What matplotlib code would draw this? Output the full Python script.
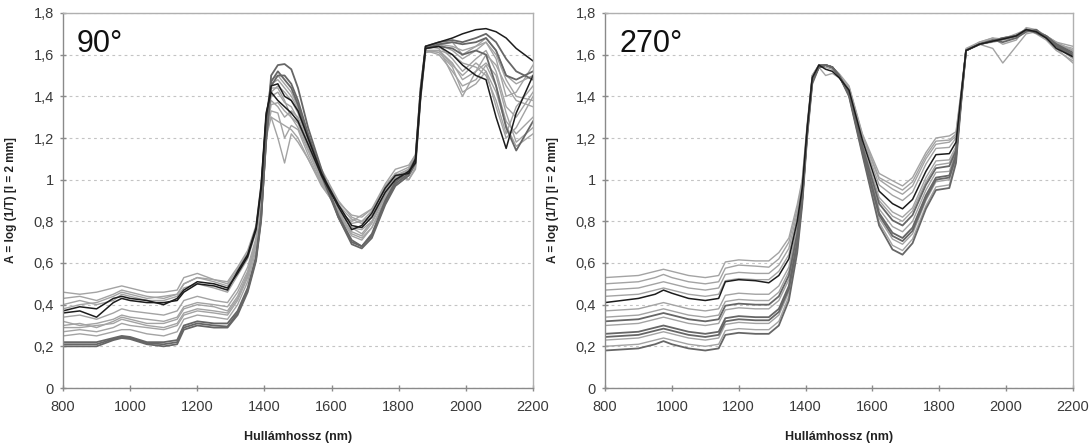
import matplotlib
matplotlib.use('Agg')
import matplotlib.pyplot as plt
from matplotlib.ticker import FuncFormatter

plt.rcParams['font.family'] = ['Liberation Sans', 'DejaVu Sans']

# ---------------- data ----------------
wavelength = [800, 850, 900, 950, 975, 1000, 1050, 1100,
              1140, 1160, 1200, 1250, 1290,
              1320, 1350, 1375, 1390, 1405, 1420,
              1440, 1460, 1480, 1500, 1530, 1570,
              1620, 1660, 1690, 1720, 1760, 1790,
              1830, 1850, 1865, 1880, 1920,
              1960, 1990, 2030, 2060, 2090, 2120, 2150, 2200]

panel_titles = ['90°', '270°']
x_ticks = [800, 1000, 1200, 1400, 1600, 1800, 2000, 2200]
y_ticks = [0, 0.2, 0.4, 0.6, 0.8, 1.0, 1.2, 1.4, 1.6, 1.8]
x_label = 'Hullámhossz (nm)'
y_label = 'A = log (1/T) [l = 2 mm]'

# ----- 90° panel spectra -----
s90_a = [0.37, 0.39, 0.38, 0.43, 0.44, 0.43, 0.42, 0.40,
         0.43, 0.47, 0.51, 0.50, 0.48,
         0.55, 0.63, 0.76, 0.95, 1.30, 1.45,
         1.46, 1.40, 1.38, 1.33, 1.20, 1.03,
         0.88, 0.78, 0.77, 0.82, 0.94, 1.00,
         1.04, 1.08, 1.40, 1.64, 1.66,
         1.68, 1.70, 1.72, 1.725, 1.71, 1.68, 1.63, 1.57]
s90_b = [0.36, 0.37, 0.34, 0.41, 0.43, 0.42, 0.41, 0.41,
         0.42, 0.46, 0.50, 0.49, 0.47,
         0.56, 0.64, 0.77, 0.97, 1.32, 1.42,
         1.38, 1.35, 1.32, 1.28, 1.17, 1.02,
         0.87, 0.76, 0.78, 0.84, 0.96, 1.02,
         1.03, 1.10, 1.42, 1.63, 1.64,
         1.60, 1.55, 1.50, 1.48, 1.30, 1.15, 1.32, 1.50]
s90_c = [0.46, 0.45, 0.46, 0.48, 0.49, 0.48, 0.46, 0.46,
         0.47, 0.53, 0.55, 0.52, 0.51,
         0.58, 0.66, 0.78, 0.98, 1.30, 1.48,
         1.50, 1.46, 1.42, 1.35, 1.22, 1.05,
         0.90, 0.82, 0.80, 0.85, 0.97, 1.03,
         1.06, 1.12, 1.45, 1.64, 1.63,
         1.50, 1.40, 1.52, 1.60, 1.55, 1.45, 1.38, 1.35]
s90_d = [0.43, 0.44, 0.42, 0.45, 0.47, 0.46, 0.44, 0.43,
         0.45, 0.50, 0.53, 0.51, 0.49,
         0.56, 0.64, 0.77, 0.96, 1.28, 1.30,
         1.20, 1.08, 1.22, 1.18, 1.10, 0.98,
         0.85, 0.80, 0.83, 0.86, 0.95, 1.02,
         1.00, 1.05, 1.38, 1.62, 1.62,
         1.55, 1.50, 1.56, 1.52, 1.35, 1.20, 1.25, 1.40]
s90_e = [0.40, 0.42, 0.40, 0.42, 0.45, 0.44, 0.42, 0.42,
         0.44, 0.48, 0.50, 0.48, 0.46,
         0.54, 0.62, 0.75, 0.94, 1.27, 1.44,
         1.44, 1.38, 1.30, 1.25, 1.14, 0.99,
         0.86, 0.77, 0.74, 0.80, 0.93, 1.01,
         1.05, 1.10, 1.42, 1.63, 1.65,
         1.62, 1.58, 1.62, 1.66, 1.58, 1.40, 1.42, 1.55]
s90_f = [0.34, 0.35, 0.33, 0.36, 0.38, 0.37, 0.36, 0.35,
         0.37, 0.42, 0.44, 0.42, 0.41,
         0.48, 0.58, 0.72, 0.92, 1.25, 1.40,
         1.42, 1.37, 1.35, 1.29, 1.16, 1.00,
         0.85, 0.74, 0.72, 0.77, 0.90, 0.97,
         1.02, 1.07, 1.40, 1.62, 1.60,
         1.52, 1.45, 1.48, 1.55, 1.45, 1.28, 1.22, 1.30]
s90_g = [0.30, 0.31, 0.29, 0.32, 0.34, 0.33, 0.31, 0.31,
         0.33, 0.38, 0.40, 0.39, 0.37,
         0.44, 0.55, 0.70, 0.90, 1.22, 1.36,
         1.37, 1.33, 1.30, 1.27, 1.15, 1.00,
         0.84, 0.75, 0.73, 0.79, 0.92, 1.00,
         1.04, 1.09, 1.41, 1.63, 1.64,
         1.58, 1.52, 1.58, 1.62, 1.52, 1.35, 1.30, 1.42]
s90_h = [0.27, 0.28, 0.27, 0.29, 0.31, 0.30, 0.29, 0.28,
         0.30, 0.35, 0.37, 0.36, 0.35,
         0.42, 0.53, 0.68, 0.88, 1.20, 1.30,
         1.28, 1.26, 1.24, 1.20, 1.10, 0.97,
         0.86, 0.79, 0.80, 0.83, 0.94, 1.01,
         1.04, 1.08, 1.39, 1.62, 1.62,
         1.56, 1.48, 1.52, 1.56, 1.50, 1.32, 1.18, 1.25]
s90_i = [0.22, 0.22, 0.22, 0.24, 0.25, 0.245, 0.22, 0.22,
         0.23, 0.30, 0.32, 0.31, 0.31,
         0.37, 0.48, 0.63, 0.82, 1.18, 1.45,
         1.50, 1.50, 1.46, 1.38, 1.22, 1.03,
         0.83, 0.71, 0.68, 0.74, 0.90, 0.99,
         1.04, 1.10, 1.43, 1.64, 1.66,
         1.67, 1.66, 1.68, 1.70, 1.66, 1.58, 1.52, 1.48]
s90_j = [0.20, 0.20, 0.20, 0.23, 0.24, 0.235, 0.21, 0.20,
         0.21, 0.28, 0.30, 0.29, 0.29,
         0.35, 0.46, 0.61, 0.80, 1.20, 1.50,
         1.55, 1.555, 1.53, 1.44, 1.25, 1.05,
         0.82, 0.69, 0.67, 0.72, 0.88, 0.97,
         1.02, 1.08, 1.40, 1.63, 1.65,
         1.66, 1.65, 1.66, 1.68, 1.62, 1.50, 1.48, 1.52]
s90_k = [0.21, 0.21, 0.21, 0.235, 0.245, 0.24, 0.215, 0.21,
         0.22, 0.29, 0.31, 0.30, 0.295,
         0.36, 0.47, 0.62, 0.81, 1.19, 1.47,
         1.52, 1.48, 1.44, 1.36, 1.20, 1.02,
         0.82, 0.70, 0.68, 0.73, 0.89, 0.98,
         1.03, 1.09, 1.41, 1.63, 1.64,
         1.63, 1.60, 1.62, 1.60, 1.45, 1.25, 1.14, 1.28]
s90_l = [0.32, 0.30, 0.31, 0.33, 0.35, 0.34, 0.33, 0.32,
         0.34, 0.39, 0.41, 0.40, 0.39,
         0.46, 0.56, 0.71, 0.91, 1.24, 1.38,
         1.35, 1.30, 1.33, 1.30, 1.18, 1.01,
         0.88, 0.81, 0.79, 0.82, 0.92, 1.03,
         1.00, 1.06, 1.38, 1.61, 1.62,
         1.60, 1.56, 1.54, 1.50, 1.38, 1.22, 1.35, 1.45]
s90_m = [0.25, 0.26, 0.25, 0.27, 0.28, 0.28, 0.26, 0.25,
         0.27, 0.33, 0.35, 0.34, 0.33,
         0.40, 0.51, 0.66, 0.86, 1.22, 1.42,
         1.45, 1.42, 1.38, 1.32, 1.19, 1.02,
         0.84, 0.73, 0.71, 0.77, 0.91, 0.99,
         1.05, 1.11, 1.44, 1.64, 1.65,
         1.64, 1.62, 1.64, 1.66, 1.60, 1.48, 1.40, 1.38]
s90_n = [0.38, 0.40, 0.41, 0.44, 0.46, 0.45, 0.43, 0.44,
         0.45, 0.50, 0.53, 0.52, 0.50,
         0.57, 0.65, 0.77, 0.96, 1.29, 1.46,
         1.48, 1.44, 1.40, 1.34, 1.21, 1.04,
         0.89, 0.83, 0.82, 0.86, 0.98, 1.05,
         1.07, 1.12, 1.44, 1.64, 1.65,
         1.66, 1.60, 1.64, 1.68, 1.62, 1.50, 1.46, 1.50]
s90_o = [0.29, 0.29, 0.30, 0.31, 0.33, 0.32, 0.30, 0.29,
         0.31, 0.36, 0.38, 0.37, 0.36,
         0.43, 0.54, 0.69, 0.89, 1.21, 1.33,
         1.32, 1.20, 1.26, 1.24, 1.12, 0.98,
         0.85, 0.77, 0.76, 0.80, 0.93, 1.02,
         1.05, 1.09, 1.40, 1.62, 1.61,
         1.54, 1.42, 1.46, 1.52, 1.42, 1.26, 1.16, 1.22]

# ----- 270° panel spectra -----
s270_01 = [0.53, 0.535, 0.54, 0.56, 0.57, 0.56, 0.54, 0.53,
           0.54, 0.605, 0.615, 0.61, 0.61,
           0.65, 0.72, 0.88, 1.00, 1.27, 1.50,
           1.55, 1.55, 1.54, 1.51, 1.45, 1.22,
           1.03, 0.995, 0.97, 1.01, 1.13, 1.20,
           1.21, 1.23, 1.42, 1.63, 1.66,
           1.67, 1.675, 1.69, 1.72, 1.71, 1.69, 1.65, 1.63]
s270_12 = [0.50, 0.505, 0.51, 0.53, 0.545, 0.53, 0.51, 0.50,
           0.51, 0.575, 0.59, 0.585, 0.58,
           0.62, 0.70, 0.86, 0.99, 1.26, 1.50,
           1.55, 1.55, 1.54, 1.50, 1.445, 1.215,
           1.01, 0.975, 0.95, 0.99, 1.115, 1.185,
           1.19, 1.22, 1.41, 1.62, 1.655,
           1.665, 1.68, 1.69, 1.715, 1.72, 1.69, 1.655, 1.62]
s270_02 = [0.47, 0.475, 0.48, 0.50, 0.51, 0.50, 0.48, 0.47,
           0.48, 0.545, 0.555, 0.55, 0.55,
           0.59, 0.67, 0.84, 0.98, 1.26, 1.50,
           1.55, 1.55, 1.53, 1.50, 1.44, 1.21,
           1.00, 0.955, 0.93, 0.97, 1.10, 1.17,
           1.18, 1.21, 1.41, 1.62, 1.66,
           1.68, 1.65, 1.67, 1.73, 1.72, 1.68, 1.64, 1.60]
s270_03 = [0.44, 0.445, 0.45, 0.47, 0.48, 0.47, 0.45, 0.44,
           0.45, 0.515, 0.525, 0.52, 0.52,
           0.56, 0.64, 0.82, 0.97, 1.25, 1.49,
           1.54, 1.50, 1.51, 1.49, 1.44, 1.20,
           0.975, 0.925, 0.90, 0.94, 1.075, 1.15,
           1.155, 1.20, 1.40, 1.62, 1.65,
           1.63, 1.56, 1.64, 1.70, 1.71, 1.69, 1.66, 1.64]
s270_04 = [0.41, 0.42, 0.43, 0.45, 0.47, 0.455, 0.43, 0.42,
           0.43, 0.51, 0.52, 0.515, 0.505,
           0.54, 0.62, 0.80, 0.96, 1.25, 1.49,
           1.55, 1.53, 1.52, 1.49, 1.43, 1.19,
           0.945, 0.885, 0.86, 0.905, 1.04, 1.12,
           1.125, 1.18, 1.40, 1.62, 1.65,
           1.665, 1.675, 1.69, 1.72, 1.71, 1.68, 1.63, 1.59]
s270_05 = [0.37, 0.375, 0.38, 0.40, 0.41, 0.40, 0.38, 0.37,
           0.38, 0.445, 0.455, 0.45, 0.45,
           0.49, 0.58, 0.775, 0.945, 1.24, 1.49,
           1.55, 1.55, 1.54, 1.50, 1.43, 1.17,
           0.915, 0.845, 0.82, 0.865, 1.01, 1.09,
           1.095, 1.16, 1.39, 1.62, 1.655,
           1.67, 1.68, 1.69, 1.725, 1.715, 1.69, 1.66, 1.62]
s270_13 = [0.34, 0.345, 0.35, 0.37, 0.38, 0.37, 0.35, 0.34,
           0.35, 0.415, 0.425, 0.42, 0.42,
           0.46, 0.56, 0.76, 0.935, 1.24, 1.48,
           1.54, 1.55, 1.54, 1.50, 1.425, 1.165,
           0.90, 0.825, 0.80, 0.85, 0.99, 1.07,
           1.08, 1.15, 1.39, 1.62, 1.65,
           1.66, 1.67, 1.68, 1.71, 1.715, 1.69, 1.655, 1.62]
s270_06 = [0.32, 0.325, 0.33, 0.35, 0.36, 0.35, 0.33, 0.32,
           0.33, 0.395, 0.405, 0.40, 0.40,
           0.44, 0.54, 0.74, 0.93, 1.24, 1.48,
           1.54, 1.55, 1.54, 1.50, 1.42, 1.16,
           0.885, 0.805, 0.78, 0.83, 0.975, 1.055,
           1.065, 1.14, 1.39, 1.62, 1.65,
           1.67, 1.66, 1.68, 1.71, 1.72, 1.68, 1.65, 1.61]
s270_07 = [0.30, 0.305, 0.31, 0.33, 0.34, 0.33, 0.31, 0.30,
           0.31, 0.375, 0.385, 0.38, 0.38,
           0.42, 0.52, 0.73, 0.92, 1.23, 1.48,
           1.54, 1.54, 1.53, 1.50, 1.415, 1.15,
           0.86, 0.775, 0.75, 0.80, 0.95, 1.035,
           1.04, 1.13, 1.38, 1.62, 1.66,
           1.68, 1.675, 1.70, 1.72, 1.70, 1.67, 1.62, 1.57]
s270_08 = [0.26, 0.265, 0.27, 0.29, 0.30, 0.29, 0.27, 0.26,
           0.27, 0.335, 0.345, 0.34, 0.34,
           0.38, 0.49, 0.70, 0.91, 1.23, 1.48,
           1.55, 1.55, 1.54, 1.50, 1.41, 1.14,
           0.84, 0.745, 0.72, 0.77, 0.925, 1.01,
           1.02, 1.12, 1.38, 1.62, 1.65,
           1.665, 1.68, 1.69, 1.72, 1.71, 1.69, 1.65, 1.60]
s270_14 = [0.245, 0.25, 0.255, 0.275, 0.285, 0.275, 0.255, 0.245,
           0.255, 0.32, 0.33, 0.325, 0.325,
           0.365, 0.475, 0.69, 0.905, 1.22, 1.47,
           1.54, 1.55, 1.54, 1.50, 1.41, 1.14,
           0.83, 0.73, 0.705, 0.755, 0.91, 1.00,
           1.01, 1.11, 1.37, 1.62, 1.65,
           1.665, 1.675, 1.69, 1.72, 1.705, 1.68, 1.64, 1.59]
s270_09 = [0.23, 0.235, 0.24, 0.26, 0.27, 0.26, 0.24, 0.23,
           0.24, 0.305, 0.315, 0.31, 0.31,
           0.35, 0.46, 0.68, 0.90, 1.22, 1.47,
           1.54, 1.55, 1.54, 1.50, 1.41, 1.135,
           0.815, 0.715, 0.69, 0.74, 0.90, 0.99,
           1.00, 1.10, 1.37, 1.62, 1.655,
           1.67, 1.68, 1.695, 1.72, 1.71, 1.685, 1.64, 1.58]
s270_10 = [0.20, 0.205, 0.21, 0.23, 0.24, 0.23, 0.21, 0.20,
           0.21, 0.275, 0.285, 0.28, 0.28,
           0.32, 0.44, 0.66, 0.89, 1.22, 1.47,
           1.54, 1.55, 1.54, 1.50, 1.40, 1.125,
           0.795, 0.685, 0.66, 0.715, 0.875, 0.965,
           0.975, 1.09, 1.37, 1.62, 1.65,
           1.67, 1.68, 1.69, 1.715, 1.705, 1.68, 1.63, 1.56]
s270_11 = [0.18, 0.185, 0.19, 0.21, 0.225, 0.21, 0.19, 0.18,
           0.19, 0.255, 0.265, 0.26, 0.26,
           0.30, 0.42, 0.65, 0.88, 1.21, 1.46,
           1.54, 1.55, 1.54, 1.50, 1.40, 1.12,
           0.78, 0.665, 0.64, 0.695, 0.86, 0.95,
           0.96, 1.08, 1.36, 1.62, 1.65,
           1.665, 1.675, 1.69, 1.72, 1.71, 1.685, 1.645, 1.60]

series_90 = [
    (s90_c, 'gray'), (s90_d, 'gray'), (s90_e, 'gray'), (s90_f, 'gray'),
    (s90_g, 'gray'), (s90_h, 'gray'), (s90_l, 'gray'), (s90_m, 'gray'),
    (s90_n, 'gray'), (s90_o, 'gray'),
    (s90_i, 'dark'), (s90_j, 'dark'), (s90_k, 'dark'),
    (s90_a, 'black'), (s90_b, 'black'),
]
series_270 = [
    (s270_01, 'gray'), (s270_12, 'gray'), (s270_02, 'gray'), (s270_03, 'gray'),
    (s270_05, 'gray'), (s270_13, 'gray'), (s270_07, 'gray'), (s270_09, 'gray'),
    (s270_10, 'gray'),
    (s270_06, 'dark'), (s270_08, 'dark'), (s270_14, 'dark'), (s270_11, 'dark'),
    (s270_04, 'black'),
]

styles = {
    'gray': dict(color='#a3a3a3', lw=1.0),
    'dark': dict(color='#666666', lw=1.3),
    'black': dict(color='#1c1c1c', lw=1.1),
}

# ---------------- figure ----------------
fig = plt.figure(figsize=(10.91, 4.46), dpi=100)
fig.patch.set_facecolor('white')
ax_positions = [[63 / 1091, 58 / 446, 470 / 1091, 375 / 446],
                [605 / 1091, 58 / 446, 468 / 1091, 375 / 446]]


def fmt(v, _):
    s = ('%.1f' % v).rstrip('0').rstrip('.')
    return s.replace('.', ',')


for pos, title, series in zip(ax_positions, panel_titles, [series_90, series_270]):
    ax = fig.add_axes(pos)
    for vals, kind in series:
        ax.plot(wavelength, vals, solid_joinstyle='round', **styles[kind])
    ax.set_xlim(800, 2200)
    ax.set_ylim(0, 1.8)
    ax.set_xticks(x_ticks)
    ax.set_yticks(y_ticks)
    ax.yaxis.set_major_formatter(FuncFormatter(fmt))
    ax.yaxis.grid(True, linestyle=(0, (2.5, 3)), color='#c4c4c4', lw=0.8)
    ax.set_axisbelow(True)
    for side in ['top', 'right']:
        ax.spines[side].set_color('#b0b0b0')
        ax.spines[side].set_linewidth(1.0)
    for side in ['left', 'bottom']:
        ax.spines[side].set_color('#8a8a8a')
        ax.spines[side].set_linewidth(1.0)
    ax.tick_params(direction='inout', length=5, width=1, color='#8a8a8a',
                   labelsize=10.5, labelcolor='#3a3a3a')
    ax.tick_params(axis='x', pad=6)
    ax.tick_params(axis='y', pad=4)
    ax.set_xlabel(x_label, fontsize=9, fontweight='bold', color='#222222')
    ax.set_ylabel(y_label, fontsize=8.5, fontweight='bold', color='#222222')
    ax.xaxis.set_label_coords(0.5, -0.115)
    ax.yaxis.set_label_coords(-0.098, 0.5)
    ax.text(0.03, 0.896, title, transform=ax.transAxes, fontsize=22,
            va='baseline', ha='left', color='#111111')

fig.savefig('out.png', dpi=100, facecolor='white')
